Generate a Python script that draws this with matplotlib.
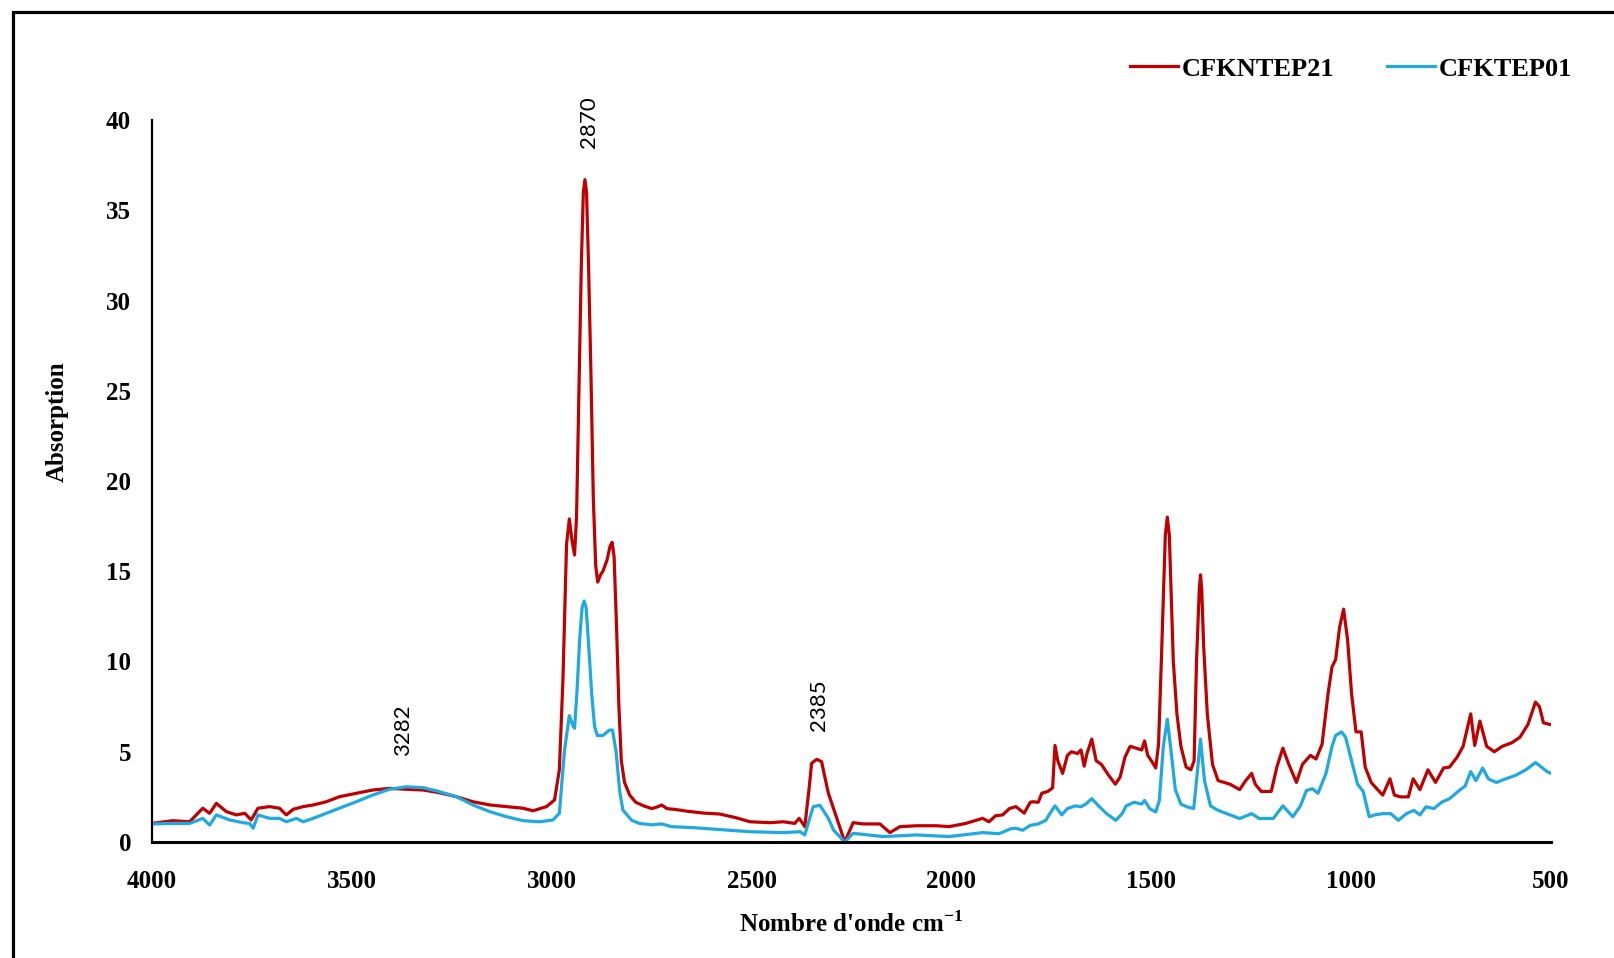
import matplotlib.pyplot as plt
import matplotlib.patches as patches

# Spectre FTIR (nombre d'onde, absorption)
wn_cfkntep21 = [4000, 3948, 3906, 3873, 3856, 3839, 3814, 3789, 3768, 3752,
                3735, 3706, 3681, 3664, 3647, 3622, 3597, 3564, 3531, 3489,
                3448, 3406, 3364, 3322, 3281, 3239, 3197, 3155, 3113, 3072,
                3047, 3013, 2993, 2981, 2972, 2963, 2956, 2950, 2943, 2938,
                2932, 2926, 2921, 2917, 2913, 2908, 2902, 2896, 2890, 2885,
                2878, 2872, 2862, 2854, 2849, 2844, 2838, 2832, 2826, 2818,
                2805, 2790, 2770, 2750, 2735, 2725, 2712, 2690, 2660, 2620,
                2580, 2540, 2504, 2454, 2421, 2392, 2381, 2367, 2356, 2350,
                2337, 2325, 2308, 2291, 2267, 2246, 2221, 2179, 2154, 2129,
                2087, 2037, 2006, 1964, 1922, 1906, 1890, 1872, 1855, 1839,
                1818, 1803, 1797, 1783, 1774, 1759, 1747, 1741, 1734, 1722,
                1710, 1700, 1685, 1676, 1668, 1661, 1649, 1638, 1625, 1607,
                1590, 1578, 1566, 1553, 1538, 1524, 1517, 1509, 1497, 1489,
                1482, 1475, 1470, 1465, 1460, 1455, 1450, 1445, 1436, 1426,
                1413, 1401, 1393, 1387, 1380, 1377, 1374, 1369, 1360, 1347,
                1333, 1318, 1303, 1279, 1264, 1249, 1240, 1225, 1200, 1186,
                1171, 1156, 1137, 1122, 1102, 1088, 1073, 1058, 1048, 1039,
                1029, 1019, 1009, 999, 988, 975, 965, 950, 936, 921,
                903, 892, 877, 857, 845, 828, 808, 789, 769, 754,
                735, 720, 701, 691, 678, 661, 642, 622, 598, 578,
                558, 539, 529, 519, 500]
abs_cfkntep21 = [1.03, 1.18, 1.12, 1.87, 1.59, 2.14, 1.68, 1.5, 1.59, 1.22,
                 1.87, 1.96, 1.87, 1.5, 1.81, 1.96, 2.05, 2.23, 2.51, 2.7,
                 2.88, 2.97, 2.92, 2.88, 2.73, 2.51, 2.23, 2.05, 1.96, 1.87,
                 1.73, 1.96, 2.33, 4.0, 9.0, 16.5, 17.9, 16.8, 15.9, 18.0,
                 25.0, 32.0, 36.0, 36.7, 36.0, 32.0, 26.0, 19.0, 15.3, 14.4,
                 14.8, 15.0, 15.6, 16.4, 16.6, 15.8, 12.0, 7.5, 4.5, 3.3,
                 2.6, 2.2, 2.0, 1.85, 1.95, 2.05, 1.85, 1.8, 1.7, 1.6,
                 1.55, 1.35, 1.12, 1.07, 1.12, 1.03, 1.31, 0.85, 3.0, 4.36,
                 4.58, 4.45, 2.7, 1.59, 0.0, 1.07, 1.0, 1.0, 0.52, 0.85,
                 0.9, 0.9, 0.85, 1.03, 1.31, 1.12, 1.45, 1.5, 1.85, 1.96,
                 1.6, 2.2, 2.23, 2.2, 2.7, 2.8, 3.0, 5.35, 4.5, 3.8,
                 4.8, 5.0, 4.9, 5.1, 4.2, 4.9, 5.7, 4.5, 4.3, 3.7,
                 3.2, 3.6, 4.7, 5.3, 5.2, 5.1, 5.6, 4.8, 4.4, 4.1,
                 5.4, 10.0, 13.5, 17.0, 18.0, 17.0, 13.5, 10.0, 7.1, 5.3,
                 4.15, 4.0, 4.5, 10.0, 14.0, 14.8, 14.0, 10.8, 7.1, 4.3,
                 3.4, 3.3, 3.2, 2.9, 3.4, 3.8, 3.2, 2.8, 2.8, 4.15,
                 5.2, 4.3, 3.3, 4.3, 4.8, 4.6, 5.4, 8.2, 9.7, 10.1,
                 11.9, 12.9, 11.2, 8.2, 6.1, 6.1, 4.15, 3.3, 2.95, 2.6,
                 3.5, 2.6, 2.5, 2.5, 3.5, 2.9, 4.0, 3.3, 4.1, 4.15,
                 4.7, 5.3, 7.1, 5.35, 6.7, 5.3, 5.0, 5.3, 5.5, 5.8,
                 6.5, 7.75, 7.5, 6.6, 6.5]

wn_cfktep01 = [4000, 3948, 3906, 3873, 3856, 3839, 3806, 3772, 3756, 3747,
               3735, 3706, 3681, 3664, 3639, 3622, 3597, 3564, 3531, 3489,
               3448, 3406, 3364, 3322, 3281, 3239, 3197, 3155, 3113, 3072,
               3030, 2997, 2981, 2968, 2956, 2948, 2943, 2937, 2930, 2924,
               2919, 2914, 2908, 2900, 2893, 2886, 2872, 2856, 2848, 2839,
               2830, 2822, 2800, 2781, 2750, 2725, 2700, 2650, 2600, 2504,
               2421, 2379, 2367, 2346, 2329, 2308, 2295, 2267, 2246, 2171,
               2087, 2006, 1922, 1881, 1851, 1839, 1822, 1803, 1783, 1764,
               1754, 1741, 1724, 1710, 1690, 1676, 1664, 1649, 1632, 1612,
               1589, 1573, 1563, 1543, 1524, 1517, 1504, 1489, 1480, 1470,
               1460, 1450, 1440, 1426, 1411, 1394, 1387, 1377, 1367, 1352,
               1333, 1303, 1279, 1249, 1230, 1195, 1171, 1146, 1127, 1112,
               1097, 1083, 1063, 1048, 1039, 1024, 1014, 999, 984, 970,
               955, 941, 921, 901, 882, 862, 843, 828, 813, 793,
               774, 754, 730, 715, 701, 688, 671, 657, 637, 613,
               588, 563, 539, 524, 510, 500]
abs_cfktep01 = [1.0, 1.03, 1.03, 1.31, 0.94, 1.5, 1.22, 1.07, 1.03, 0.76,
                1.5, 1.31, 1.31, 1.12, 1.31, 1.12, 1.31, 1.59, 1.87, 2.23,
                2.6, 2.92, 3.06, 3.01, 2.79, 2.51, 2.05, 1.68, 1.4, 1.18,
                1.12, 1.22, 1.59, 5.1, 7.0, 6.5, 6.3, 8.3, 11.3, 13.0,
                13.35, 13.0, 11.0, 8.2, 6.4, 5.9, 5.9, 6.2, 6.2, 5.0,
                2.8, 1.77, 1.2, 1.03, 0.95, 1.0, 0.85, 0.8, 0.72, 0.57,
                0.52, 0.57, 0.39, 1.96, 2.03, 1.31, 0.66, 0.0, 0.48, 0.3,
                0.39, 0.3, 0.52, 0.46, 0.74, 0.76, 0.65, 0.92, 1.0, 1.2,
                1.57, 2.0, 1.5, 1.85, 2.0, 1.95, 2.1, 2.4, 2.0, 1.57,
                1.2, 1.57, 2.0, 2.2, 2.1, 2.3, 1.85, 1.66, 2.3, 5.3,
                6.8, 4.9, 2.9, 2.1, 1.95, 1.85, 3.4, 5.7, 3.4, 2.0,
                1.75, 1.5, 1.3, 1.57, 1.3, 1.3, 2.0, 1.4, 2.0, 2.85,
                2.95, 2.7, 3.8, 5.3, 5.9, 6.1, 5.8, 4.5, 3.2, 2.8,
                1.4, 1.5, 1.57, 1.57, 1.2, 1.57, 1.75, 1.5, 1.95, 1.85,
                2.2, 2.4, 2.85, 3.1, 3.9, 3.4, 4.1, 3.5, 3.3, 3.5,
                3.7, 4.0, 4.4, 4.15, 3.9, 3.8]

# bandes annotées
pic_labels = ["3282", "2870", "2385"]
pic_x = [3372, 2908, 2331]
pic_y = [6.2, 39.9, 7.6]

serif = "Liberation Serif"
plt.rcParams["mathtext.fontset"] = "custom"
plt.rcParams["mathtext.rm"] = serif
plt.rcParams["mathtext.bf"] = serif + ":bold"

fig = plt.figure(figsize=(16.14, 9.58), dpi=100)
ax = fig.add_axes([0.0942, 0.1211, 0.8668, 0.7536])

ax.plot(wn_cfkntep21, abs_cfkntep21, color="#C00000", linewidth=2.3,
        solid_joinstyle="round", label="CFKNTEP21")
ax.plot(wn_cfktep01, abs_cfktep01, color="#1FA9E1", linewidth=2.3,
        solid_joinstyle="round", label="CFKTEP01")

for lab, x, y in zip(pic_labels, pic_x, pic_y):
    ax.text(x, y, lab, rotation=90, ha="center", va="center", fontsize=16, family="Lato")

ax.set_xlim(4000, 500)
ax.set_ylim(0, 40)
ax.set_xticks(range(4000, 499, -500))
ax.set_yticks(range(0, 41, 5))

for s in ["top", "right"]:
    ax.spines[s].set_visible(False)
ax.spines["left"].set_linewidth(1.6)
ax.spines["bottom"].set_linewidth(2.2)

ax.tick_params(axis="y", length=0, pad=15)
ax.tick_params(axis="x", length=0, pad=20)
for t in ax.get_xticklabels() + ax.get_yticklabels():
    t.set_fontfamily(serif)
    t.set_fontweight("bold")
    t.set_fontsize(18)

fig.text(851 / 1614, 1 - 924 / 958, "Nombre d'onde cm$^{\\mathbf{-1}}$", ha="center", va="center",
         fontsize=18, fontweight="bold", family=serif)
fig.text(57 / 1614, 1 - 422 / 958, "Absorption", rotation=90, ha="center", va="center",
         fontsize=18, fontweight="bold", family=serif)

fig.legend(loc="center right", bbox_to_anchor=(1572 / 1614, 1 - 69 / 958), ncol=2, frameon=False,
           prop={"family": serif, "weight": "bold", "size": 19}, handlelength=1.8,
           handletextpad=0.15, columnspacing=2.0, borderpad=0, borderaxespad=0)

# cadre autour de la figure
cadre = patches.Rectangle((13 / 1614, -0.1), 1.2, 1.1 - 12 / 958, fill=False, linewidth=2.3,
                          edgecolor="black", transform=fig.transFigure, clip_on=False)
fig.patches.append(cadre)

plt.savefig("out.png", dpi=100)
